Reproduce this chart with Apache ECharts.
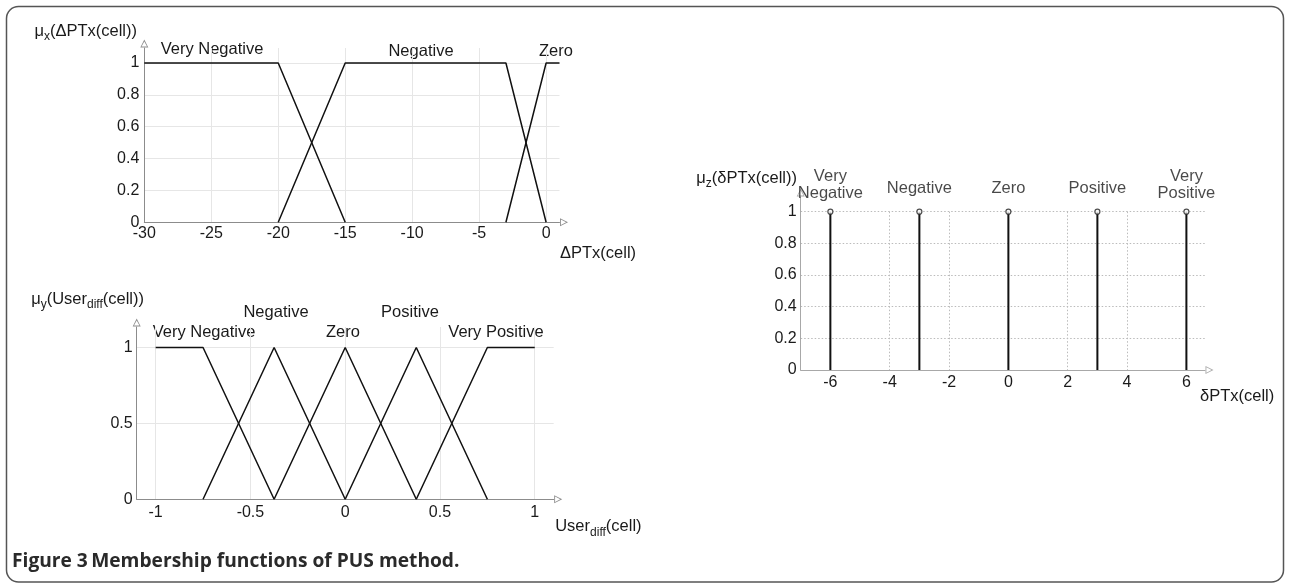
<!DOCTYPE html>
<html><head><meta charset="utf-8">
<script src="https://cdn.jsdelivr.net/npm/echarts@6/dist/echarts.min.js"></script>
<style>html,body{margin:0;padding:0;background:#fff}#c{width:1291px;height:585px}</style>
</head><body><div id="c"></div>
<script>
// ---------- Chart 1: mu_x(ΔPTx(cell)) ----------
const x1Ticks = [-30, -25, -20, -15, -10, -5, 0];
const y1Ticks = [0, 0.2, 0.4, 0.6, 0.8, 1];
const sets1 = ['Very Negative', 'Negative', 'Zero'];
const vn1X = [-30, -20, -15], vn1Y = [1, 1, 0];
const neg1X = [-20, -15, -3, 0], neg1Y = [0, 1, 1, 0];
const zero1X = [-3, 0, 1], zero1Y = [0, 1, 1];

// ---------- Chart 2: mu_y(User_diff(cell)) ----------
const x2Ticks = [-1, -0.5, 0, 0.5, 1];
const y2Ticks = [0, 0.5, 1];
const sets2 = ['Very Negative', 'Negative', 'Zero', 'Positive', 'Very Positive'];
const vn2X = [-1, -0.75, -0.375], vn2Y = [1, 1, 0];
const neg2X = [-0.75, -0.375, 0], neg2Y = [0, 1, 0];
const zero2X = [-0.375, 0, 0.375], zero2Y = [0, 1, 0];
const pos2X = [0, 0.375, 0.75], pos2Y = [0, 1, 0];
const vp2X = [0.375, 0.75, 1], vp2Y = [0, 1, 1];

// ---------- Chart 3: mu_z(δPTx(cell)) singletons ----------
const x3Ticks = [-6, -4, -2, 0, 2, 4, 6];
const y3Ticks = [0, 0.2, 0.4, 0.6, 0.8, 1];
const sets3 = ['Very\nNegative', 'Negative', 'Zero', 'Positive', 'Very\nPositive'];
const stem3X = [-6, -3, 0, 3, 6];
const stem3Y = [1, 1, 1, 1, 1];

const FONT = 'Liberation Sans, Arial, Helvetica, sans-serif';
const TXT = '#1a1a1a';
const zip = (xs, ys) => xs.map((x, i) => [x, ys[i]]);
const ARROW = 'path://M5,0 L10,10 L0,10 Z M5,2.4 L1.6,8.9 L8.4,8.9 Z';

function axis(opts) {
  const o = {
    type: 'value', gridIndex: opts.grid, min: opts.min, max: opts.max,
    axisLine: { show: true, onZero: false, symbol: ['none', ARROW], symbolSize: [8, 9], symbolOffset: [0, 4.5],
      lineStyle: { color: opts.axisColor || '#8c8c8c', width: 1 } },
    axisTick: { show: false, customValues: opts.ticks },
    axisLabel: { show: opts.labels !== false, customValues: opts.ticks, color: TXT, fontSize: 16,
      fontFamily: FONT, margin: opts.margin },
    splitLine: { show: opts.split !== false,
      lineStyle: { color: opts.splitColor || '#e6e6e6', width: 1, type: opts.splitType || 'solid' } }
  };
  if (opts.name) {
    o.name = opts.name; o.nameLocation = 'end'; o.nameGap = opts.nameGap;
    o.nameTextStyle = { fontSize: 16.5, fontFamily: FONT, color: TXT, align: 'left', verticalAlign: 'middle',
      padding: [opts.nameDrop * 2, 0, 0, 0],
      rich: { m: { fontSize: 16.5, fontFamily: FONT, color: TXT },
              s: { fontSize: 12, fontFamily: FONT, color: TXT, padding: [12, 0, 0, 0] } } };
  }
  return o;
}

function lineSeries(name, xi, yi, xs, ys) {
  return { type: 'line', name, xAxisIndex: xi, yAxisIndex: yi, data: zip(xs, ys), showSymbol: false,
    symbol: 'none', lineStyle: { color: '#111', width: 1.5 }, silent: true, z: 3 };
}

const stemData = [];
stem3X.forEach((x, i) => { stemData.push([x, 0], [x, stem3Y[i]], '-'); });

const richName = {
  m: { fontSize: 16.5, fontFamily: FONT, fill: TXT },
  s: { fontSize: 12, fontFamily: FONT, fill: TXT, padding: [12, 0, 0, 0] }
};
const setLabel = (text, x, y) => ({ type: 'text', x, y, style: { text, align: 'center', verticalAlign: 'middle',
  fontSize: 16.5, fontFamily: FONT, fill: TXT } });

const chart = echarts.init(document.getElementById('c'), null, { renderer: 'canvas' });
chart.setOption({
  animation: false,
  backgroundColor: '#fff',
  grid: [
    { left: 144.3, top: 48, width: 415.2, height: 174.3 },
    { left: 136.7, top: 327, width: 417, height: 172.3 },
    { left: 800.7, top: 197, width: 404.3, height: 173 },
    { left: 800.7, top: 211.7, width: 404.3, height: 158.3 }
  ],
  xAxis: [
    axis({ grid: 0, min: -30, max: 1, ticks: x1Ticks, margin: 3,
      name: '{m|ΔPTx(cell)}', nameGap: 0.5, nameDrop: 30.7 }),
    axis({ grid: 1, min: -1.1, max: 1.1, ticks: x2Ticks, margin: 5,
      name: '{m|User}{s|diff}{m|(cell)}', nameGap: 1.5, nameDrop: 27 }),
    axis({ grid: 2, min: -7, max: 6.627, ticks: x3Ticks, margin: 5, split: false, axisColor: '#a8a8a8',
      name: '{m|δPTx(cell)}', nameGap: -5, nameDrop: 26.7 }),
    { type: 'value', gridIndex: 3, min: -7, max: 6.627, axisLine: { show: false },
      axisTick: { show: false, customValues: x3Ticks }, axisLabel: { show: false, customValues: x3Ticks },
      splitLine: { show: true, lineStyle: { color: '#bbb', width: 1, type: [1.5, 2] } } }
  ],
  yAxis: [
    axis({ grid: 0, min: 0, max: 1.094, ticks: y1Ticks, margin: 5 }),
    axis({ grid: 1, min: 0, max: 1.135, ticks: y2Ticks, margin: 4 }),
    axis({ grid: 2, min: 0, max: 1.093, ticks: y3Ticks, margin: 4, axisColor: '#a8a8a8',
      splitColor: '#bbb', splitType: [1.5, 2] }),
    { type: 'value', gridIndex: 3, min: 0, max: 1, show: false }
  ],
  series: [
    lineSeries(sets1[0], 0, 0, vn1X, vn1Y),
    lineSeries(sets1[1], 0, 0, neg1X, neg1Y),
    lineSeries(sets1[2], 0, 0, zero1X, zero1Y),
    lineSeries(sets2[0], 1, 1, vn2X, vn2Y),
    lineSeries(sets2[1], 1, 1, neg2X, neg2Y),
    lineSeries(sets2[2], 1, 1, zero2X, zero2Y),
    lineSeries(sets2[3], 1, 1, pos2X, pos2Y),
    lineSeries(sets2[4], 1, 1, vp2X, vp2Y),
    { type: 'line', name: 'stems', xAxisIndex: 2, yAxisIndex: 2, data: stemData, showSymbol: false,
      symbol: 'none', connectNulls: false, lineStyle: { color: '#111', width: 2 }, silent: true, z: 3 },
    { type: 'scatter', name: 'singletons', xAxisIndex: 2, yAxisIndex: 2, symbol: 'circle', symbolSize: 5,
      itemStyle: { color: '#fff', borderColor: '#222', borderWidth: 1.2 }, z: 4, silent: true,
      data: stem3X.map((x, i) => ({
        value: [x, stem3Y[i]], name: sets3[i],
        label: { show: true, position: 'top', formatter: '{b}', fontSize: 16.5, fontFamily: FONT,
          color: TXT, lineHeight: 17, align: 'center',
          distance: sets3[i].indexOf('\n') >= 0 ? 6.8 : 11.5 }
      })) }
  ],
  graphic: [
    { type: 'rect', shape: { x: 6.5, y: 6.5, width: 1277, height: 575.5, r: 12 },
      style: { fill: 'none', stroke: '#555', lineWidth: 1.5 }, silent: true, z: 0 },
    // y-axis titles
    { type: 'text', x: 137, y: 31, style: { text: '{m|μ}{s|x}{m|(ΔPTx(cell))}', align: 'right', verticalAlign: 'middle', rich: richName } },
    { type: 'text', x: 144, y: 299, style: { text: '{m|μ}{s|y}{m|(User}{s|diff}{m|(cell))}', align: 'right', verticalAlign: 'middle', rich: richName } },
    { type: 'text', x: 797, y: 178, style: { text: '{m|μ}{s|z}{m|(δPTx(cell))}', align: 'right', verticalAlign: 'middle', rich: richName } },
    // fuzzy set labels, chart 1
    setLabel(sets1[0], 212, 49),
    setLabel(sets1[1], 421, 51),
    setLabel(sets1[2], 556, 51),
    // fuzzy set labels, chart 2
    setLabel(sets2[0], 204, 332),
    setLabel(sets2[1], 276, 312),
    setLabel(sets2[2], 343, 332),
    setLabel(sets2[3], 410, 312),
    setLabel(sets2[4], 496, 332),
    // caption
    { type: 'text', x: 12, y: 562, style: { text: '{b|Figure 3} {b|Membership functions of PUS method.}', align: 'left', verticalAlign: 'middle',
      rich: { b: { fontSize: 19.2, fontWeight: 'bold', fontFamily: 'Open Sans, Noto Sans, sans-serif', fill: '#2a2a2a' } } } }
  ]
});
</script>
</body></html>
